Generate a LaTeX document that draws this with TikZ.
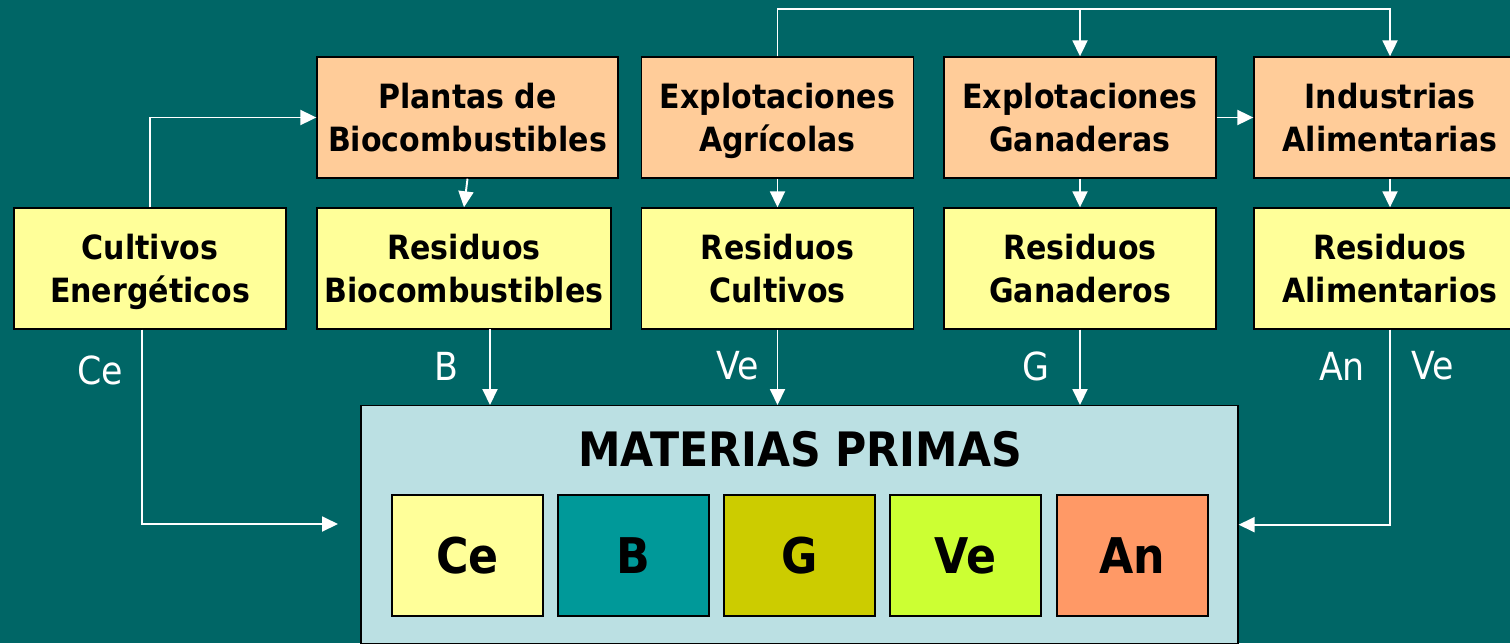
\documentclass[tikz,border=0pt]{standalone}
\usepackage{fontspec}
\setmainfont{DejaVu Sans Condensed}
\usetikzlibrary{arrows.meta}
\definecolor{fondo}{HTML}{006666}
\definecolor{naranja}{HTML}{FFCC99}
\definecolor{amarillo}{HTML}{FFFF99}
\definecolor{celeste}{HTML}{BBE0E3}
\definecolor{colB}{HTML}{009999}
\definecolor{colG}{HTML}{CCCC00}
\definecolor{colVe}{HTML}{CCFF33}
\definecolor{colAn}{HTML}{FF9966}
\begin{document}
\begin{tikzpicture}[x=0.02cm, y=-0.02cm,
    caja/.style={draw=black, line width=0.8pt, align=center, inner sep=0pt,
      minimum width=5.44cm, minimum height=2.42cm,
      font=\fontsize{19}{25}\selectfont\bfseries,
      text height=44pt, text depth=4.8pt},
    planta/.style={caja, fill=naranja},
    residuo/.style={caja, fill=amarillo},
    materia/.style={draw=black, line width=0.8pt, minimum width=3.02cm,
      minimum height=2.42cm, font=\fontsize{28}{34}\selectfont\bfseries},
    etiq/.style={text=white, font=\fontsize{22}{26}\selectfont},
    flecha/.style={draw=white, line width=1.1pt,
      -{Triangle[length=0.32cm, width=0.3cm]}}]
  \fill[fondo] (0,0) rectangle (1510,643);
  \useasboundingbox (0,0) rectangle (1510,643);
  \clip (0,0) rectangle (1510,643);
  % fila superior
  \node[planta, minimum width=6.02cm] (plantas) at (467.5,117.5) {Plantas de\\Biocombustibles};
  \node[planta] (agricolas) at (777.5,117.5) {Explotaciones\\Agrícolas};
  \node[planta] (ganaderas) at (1080,117.5) {Explotaciones\\Ganaderas};
  \node[planta] (industrias) at (1390,117.5) {Industrias\\Alimentarias};
  % residuos
  \node[residuo] (cultivos) at (150,268.5) {Cultivos\\Energéticos};
  \node[residuo, minimum width=5.88cm] (resbio) at (464,268.5) {Residuos\\Biocombustibles};
  \node[residuo] (rescult) at (777.5,268.5) {Residuos\\Cultivos};
  \node[residuo] (resgan) at (1080,268.5) {Residuos\\Ganaderos};
  \node[residuo] (resali) at (1390,268.5) {Residuos\\Alimentarios};
  % materias primas
  \node[draw=black, line width=0.8pt, fill=celeste, minimum width=17.54cm,
    minimum height=4.76cm, anchor=north] (materias) at (799.5,405) {};
  \node[font=\fontsize{27}{34}\selectfont\bfseries] (titulo) at (800,449) {MATERIAS PRIMAS};
  \node[materia, fill=amarillo] (mCe) at (467.5,555.5) {Ce};
  \node[materia, fill=colB] (mB) at (633.5,555.5) {B};
  \node[materia, fill=colG] (mG) at (799.5,555.5) {G};
  \node[materia, fill=colVe] (mVe) at (965.5,555.5) {Ve};
  \node[materia, fill=colAn] (mAn) at (1132.5,555.5) {An};
  % conexiones
  \coordinate (bus) at (777.5,9);
  \coordinate (ceIn) at (338,524);
  \coordinate (bIn) at (490,329);
  \draw[flecha] (cultivos.north) |- (plantas.west);
  \draw[flecha] (plantas.south) -- (resbio.north);
  \draw[flecha] (agricolas.south) -- (rescult.north);
  \draw[flecha] (ganaderas.south) -- (resgan.north);
  \draw[flecha] (industrias.south) -- (resali.north);
  \draw[flecha] (ganaderas.east) -- (industrias.west);
  \draw[flecha] (agricolas.north) -- (bus) -| (industrias.north);
  \draw[flecha] (bus -| ganaderas.north) -- (ganaderas.north);
  \draw[flecha] ([xshift=-0.16cm]cultivos.south) |- (ceIn);
  \draw[flecha] (bIn) -- (bIn |- materias.north);
  \draw[flecha] (rescult.south) -- (rescult.south |- materias.north);
  \draw[flecha] (resgan.south) -- (resgan.south |- materias.north);
  \draw[flecha] (resali.south) |- (materias.east);
  % etiquetas
  \node[etiq] (lCe) at (100,370) {Ce};
  \node[etiq] (lB) at (446,366) {B};
  \node[etiq] (lVe) at (738,366) {Ve};
  \node[etiq] (lG) at (1036,366) {G};
  \node[etiq] (lAn) at (1342,366) {An};
  \node[etiq] (lVe2) at (1433,366) {Ve};
\end{tikzpicture}
\end{document}
